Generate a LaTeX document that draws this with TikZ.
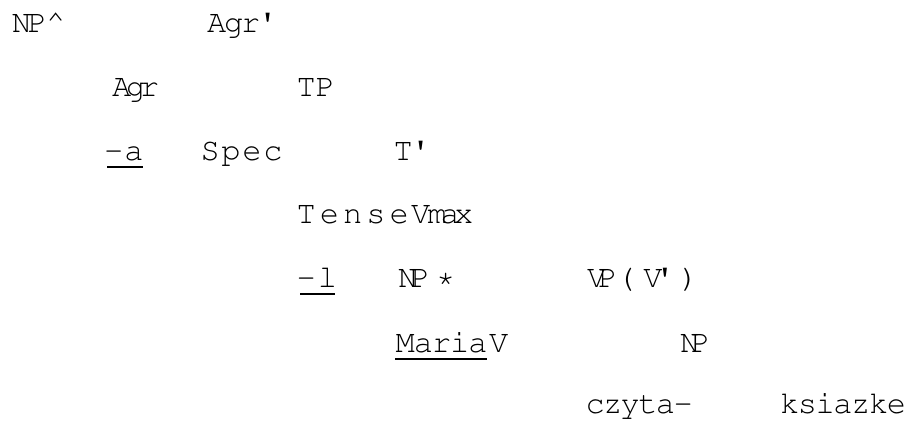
\documentclass[tikz,border=0pt]{standalone}
\usepackage[T1,TU]{fontenc}
\usetikzlibrary{calc}

% one unit of the drawing grid
\newdimen\pxu \pxu=0.75pt
% set a string character by character on a fixed pitch
\newdimen\cellw
\newcommand\pitched[2]{\cellw=#1\pxu\pitchloop#2\relax}
\def\pitchloop#1{\ifx\relax#1\else\makebox[\cellw][l]{#1}\expandafter\pitchloop\fi}
% one character in a cell of a given width
\newcommand\cell[2]{\makebox[#1\pxu][l]{#2}}
\newcommand\qs{\textquotesingle}

\tikzset{
  lbl/.style={anchor=base west, inner sep=0pt, outer sep=0pt,
    font=\fontencoding{T1}\fontfamily{pcr}\fontsize{24}{28}\selectfont},
  uline/.style={line width=1.2pt, black}
}

\begin{document}
\begin{tikzpicture}[x=0.75pt, y=-0.75pt]
\useasboundingbox[fill=white] (0,0) rectangle (910,421);

% row 1
\node[lbl] (np1)   at (12,32)    {\pitched{15.5}{NP}};
\node[lbl] (hat)   at (46,32)    {\textasciicircum};
\node[lbl] (agrb)  at (207,32)   {\pitched{17}{Agr\qs}};

% row 2
\node[lbl] (agr)   at (112,96)   {\pitched{14}{Agr}};
\node[lbl] (tp)    at (296.5,96) {\pitched{19}{TP}};

% row 3
\node[lbl] (suffa) at (104,160)  {\pitched{20.5}{-a}};
\node[lbl] (spec)  at (200.5,160){\pitched{21}{Spec}};
\node[lbl] (tbar)  at (393.5,160){\pitched{17.5}{T\qs}};

% row 4
\node[lbl] (tense) at (296.5,223){\pitched{23.3}{Tense}};
\node[lbl] (vmax)  at (411,223)  {\cell{16.5}{V}\cell{13}{m}\cell{13.5}{a}x};

% row 5
\node[lbl] (suffl) at (296.5,287){\pitched{21.5}{-l}};
\node[lbl] (np2)   at (398,287)  {\pitched{12.5}{NP}};
\node[lbl] (star)  at (436,287)  {*};
\node[lbl] (vp)    at (587,287)  {\pitched{11}{VP}};
\node[lbl] (lpar)  at (616.5,287){(};
\node[lbl] (vbar)  at (643.3,287){\pitched{12}{V\qs}};
\node[lbl] (rpar)  at (679.5,287){)};

% row 6
\node[lbl] (maria) at (395.6,352){\pitched{18.2}{Maria}};
\node[lbl] (v)     at (489,352)  {V};
\node[lbl] (np3)   at (680,352)  {\pitched{10.8}{NP}};

% row 7
\node[lbl] (czyta) at (585.5,413){\pitched{17.6}{czyta-}};
\node[lbl] (ksia)  at (780,413)  {\pitched{17.8}{ksiazke}};

% underlined morphemes
\draw[uline] ([shift={(3,7)}]suffa.base west) -- ([shift={(39,7)}]suffa.base west);
\draw[uline] ([shift={(3.5,7)}]suffl.base west) -- ([shift={(38.5,7)}]suffl.base west);
\draw[uline] ([shift={(-0.6,7)}]maria.base west) -- ([shift={(91.4,7)}]maria.base west);
\end{tikzpicture}
\end{document}
